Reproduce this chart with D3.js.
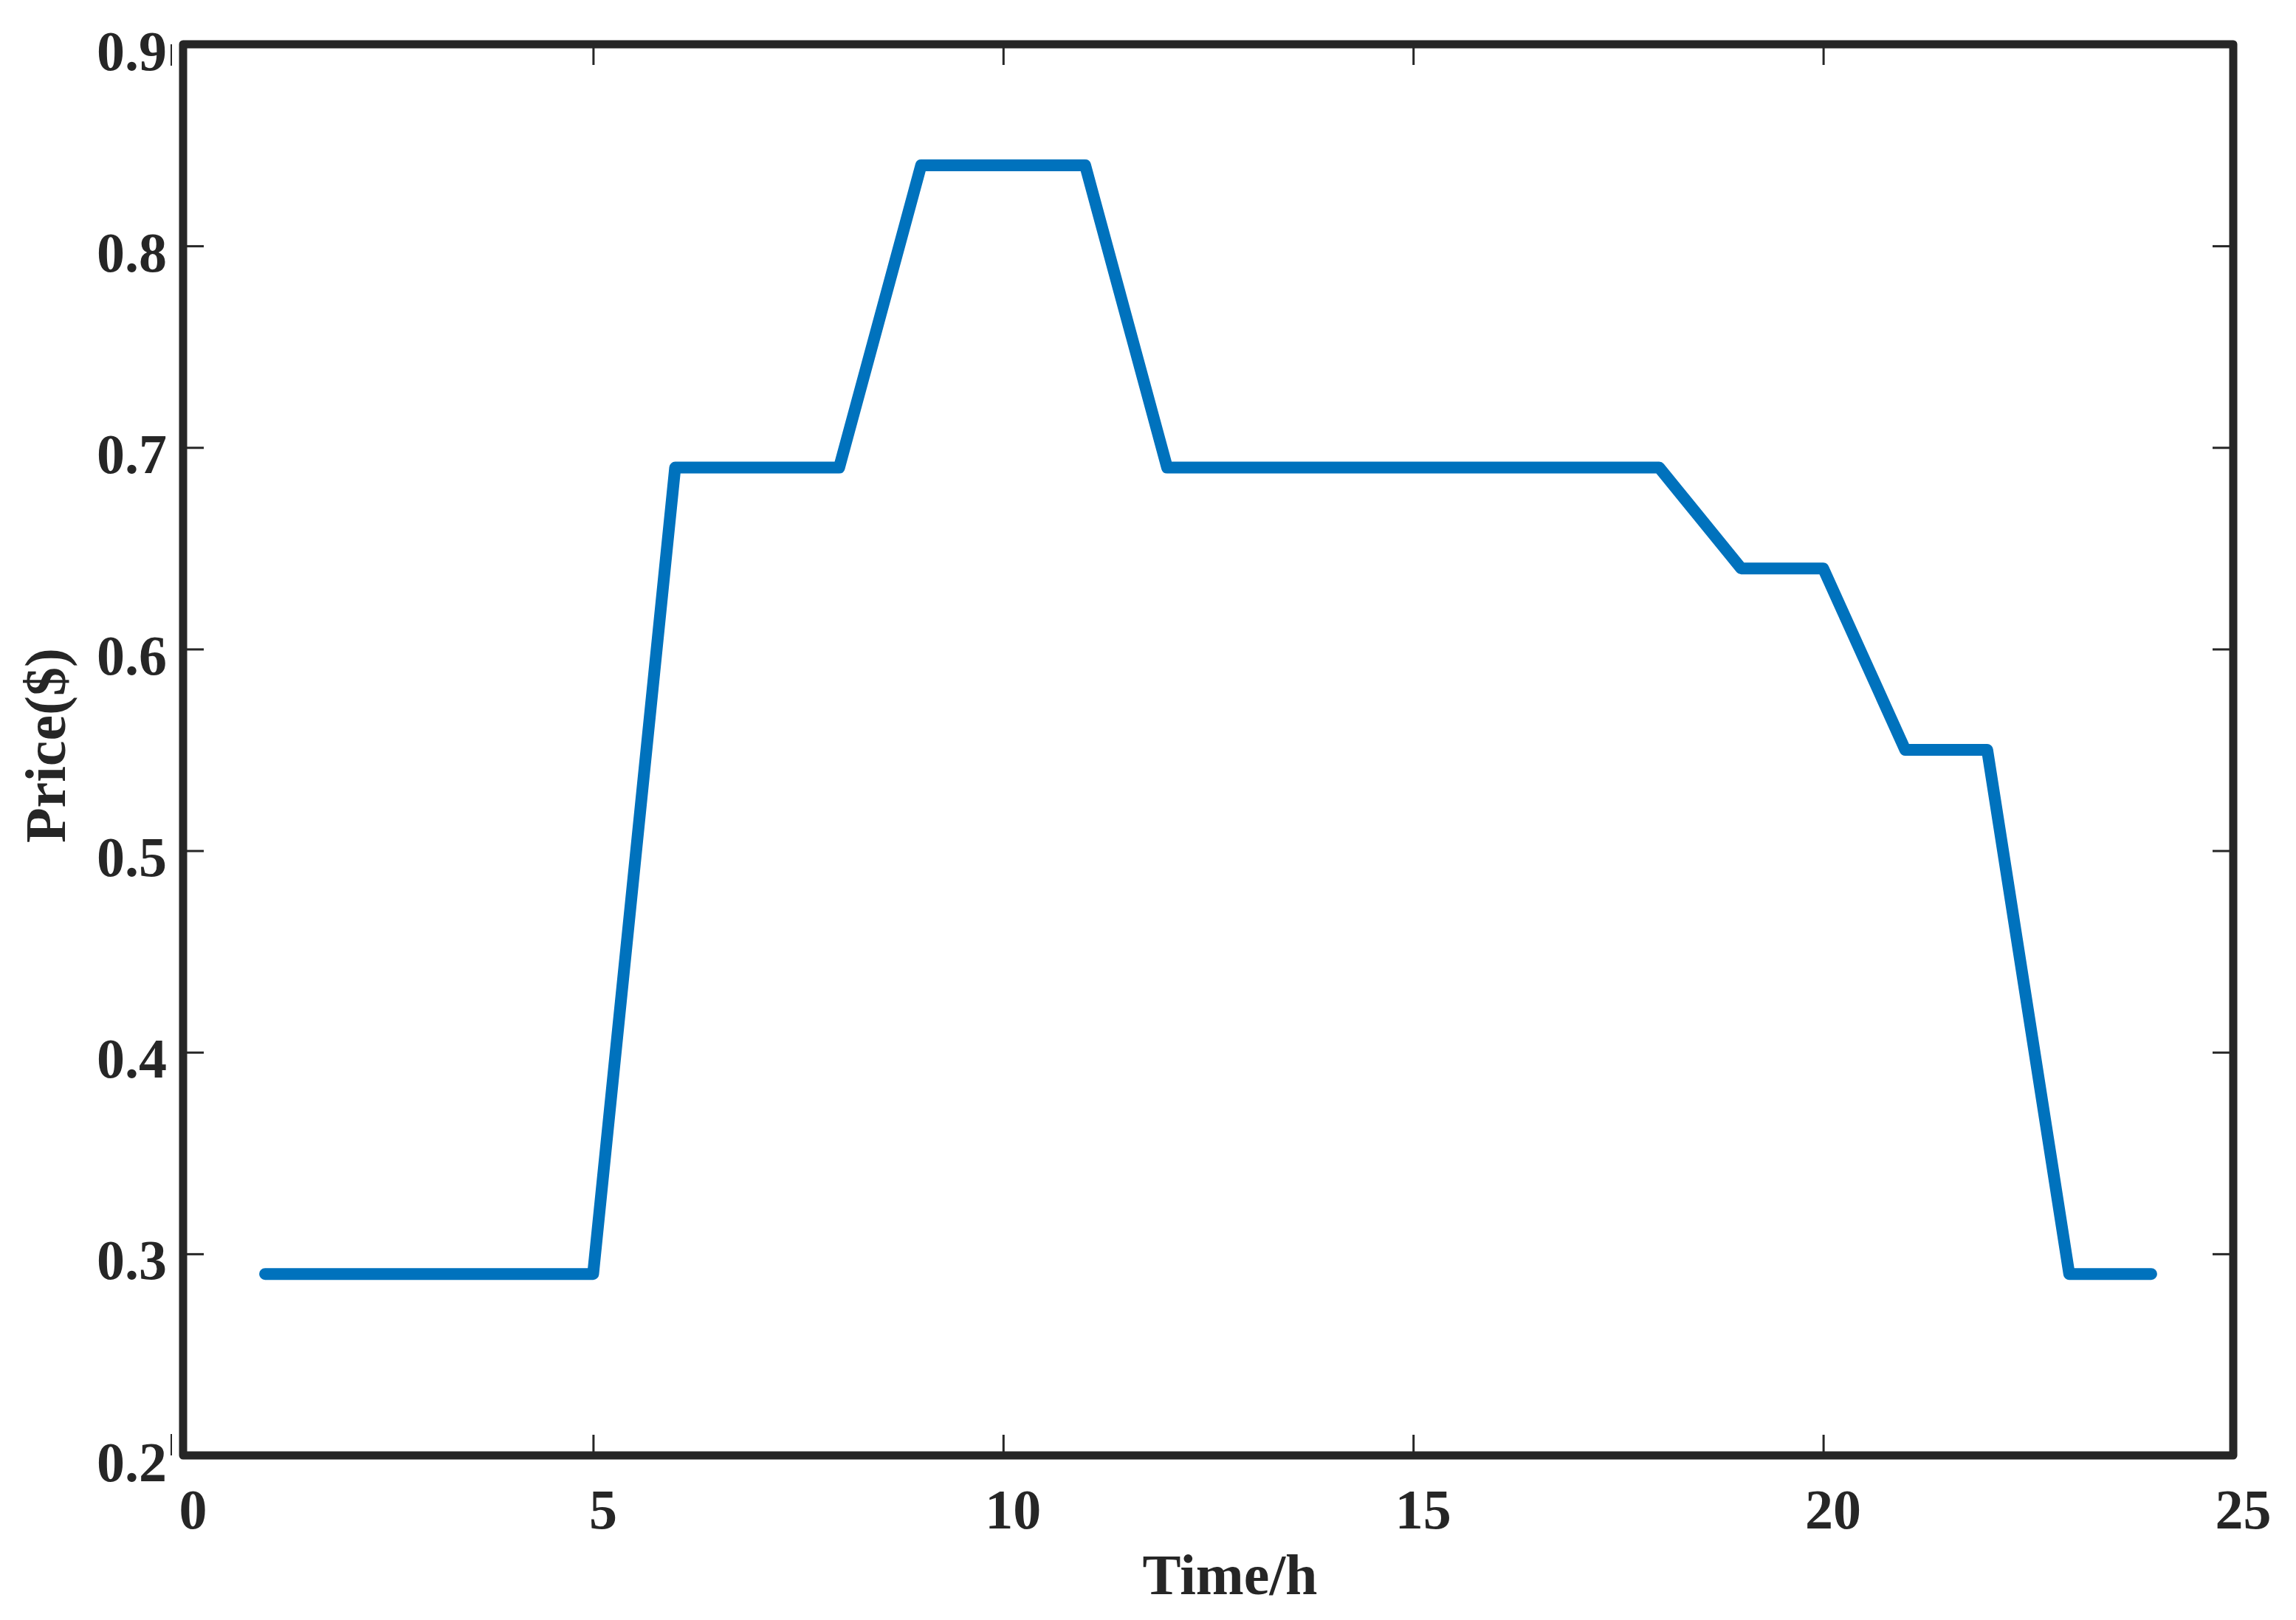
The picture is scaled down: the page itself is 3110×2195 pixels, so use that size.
<!DOCTYPE html>
<html>
<head>
<meta charset="utf-8">
<script src="https://cdn.jsdelivr.net/npm/d3@7"></script>
<style>
  html, body { margin: 0; padding: 0; background: #ffffff; }
  svg { display: block; }
</style>
</head>
<body>
<script>
// ---- data ----
const hours = [1,2,3,4,5,6,7,8,9,10,11,12,13,14,15,16,17,18,19,20,21,22,23,24];
const prices = [0.29,0.29,0.29,0.29,0.29,0.69,0.69,0.69,0.84,0.84,0.84,0.69,0.69,0.69,0.69,0.69,0.69,0.69,0.64,0.64,0.55,0.55,0.29,0.29];
const xTicks = [0,5,10,15,20,25];
const yTicks = [0.2,0.3,0.4,0.5,0.6,0.7,0.8,0.9];
const xLabel = "Time/h";
const yLabel = "Price($)";

(function () {
const W = 3110, H = 2195;
const pLeft = 248, pRight = 3025, pTop = 60, pBottom = 1972;
const ink = "#262626";
const font = "'Liberation Serif', 'Times New Roman', serif";

const svg = d3.select("body").append("svg").attr("width", W).attr("height", H);

const x = d3.scaleLinear().domain([0, 25]).range([pLeft, pRight]);
const y = d3.scaleLinear().domain([0.2, 0.9]).range([pBottom, pTop]);

const tickLen = 28;
function styleAxis(g) {
  g.select(".domain").remove();
  g.selectAll(".tick line").attr("stroke", ink).attr("stroke-width", 3);
}
const xb = svg.append("g").attr("transform", `translate(0,${pBottom})`)
  .call(d3.axisBottom(x).tickValues(xTicks).tickSize(-tickLen).tickFormat(d => d));
styleAxis(xb);
xb.selectAll(".tick text")
  .attr("font-family", font).attr("font-weight", "bold").attr("font-size", 76)
  .attr("fill", ink).attr("dy", null).attr("y", 99).attr("x", 13);

const xt = svg.append("g").attr("transform", `translate(0,${pTop})`)
  .call(d3.axisTop(x).tickValues(xTicks).tickSize(-tickLen).tickFormat(""));
styleAxis(xt);

const yl = svg.append("g").attr("transform", `translate(${pLeft},0)`)
  .call(d3.axisLeft(y).tickValues(yTicks).tickSize(-tickLen).tickFormat(d3.format(".1f")));
styleAxis(yl);
yl.selectAll(".tick text")
  .attr("font-family", font).attr("font-weight", "bold").attr("font-size", 76)
  .attr("fill", ink).attr("x", -22).attr("dy", null).attr("y", 34)
  .attr("text-anchor", "end");

const yr = svg.append("g").attr("transform", `translate(${pRight},0)`)
  .call(d3.axisRight(y).tickValues(yTicks).tickSize(-tickLen).tickFormat(""));
styleAxis(yr);

[xb, xt].forEach(g => g.selectAll(".tick").filter(d => d === 0 || d === 25).select("line").remove());
[yl, yr].forEach(g => g.selectAll(".tick").filter(d => d === 0.2 || d === 0.9).select("line").remove());

// small stray marks left of the frame at the extreme y ticks
svg.append("line").attr("x1", 232).attr("x2", 232).attr("y1", y(0.9)).attr("y2", y(0.9) + 29)
  .attr("stroke", ink).attr("stroke-width", 2);
svg.append("line").attr("x1", 232).attr("x2", 232).attr("y1", y(0.2) - 29).attr("y2", y(0.2))
  .attr("stroke", ink).attr("stroke-width", 2);

// data line
const line = d3.line().x((d, i) => x(hours[i])).y(d => y(d));
svg.append("path").datum(prices)
  .attr("d", line)
  .attr("fill", "none")
  .attr("stroke", "#0072BD")
  .attr("stroke-width", 16)
  .attr("stroke-linejoin", "round")
  .attr("stroke-linecap", "round");

// frame
svg.append("rect")
  .attr("x", pLeft).attr("y", pTop)
  .attr("width", pRight - pLeft).attr("height", pBottom - pTop)
  .attr("fill", "none").attr("stroke", ink).attr("stroke-width", 11)
  .attr("stroke-linejoin", "round");

// axis labels
svg.append("text")
  .attr("x", 1666).attr("y", 2160)
  .attr("text-anchor", "middle")
  .attr("font-family", font).attr("font-weight", "bold").attr("font-size", 78)
  .attr("fill", ink).text(xLabel);

svg.append("text")
  .attr("transform", `translate(88,1010) rotate(-90)`)
  .attr("text-anchor", "middle")
  .attr("font-family", font).attr("font-weight", "bold").attr("font-size", 78)
  .attr("fill", ink).text(yLabel);
})();
</script>
</body>
</html>
